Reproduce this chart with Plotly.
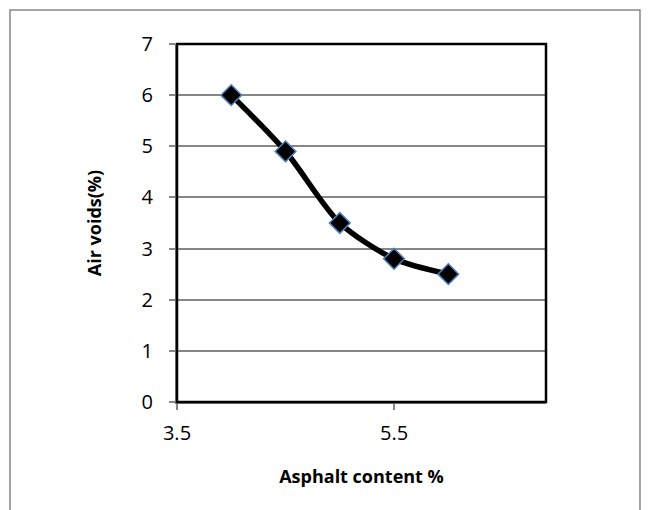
import plotly.graph_objects as go

asphalt_content = [4.0, 4.5, 5.0, 5.5, 6.0]
air_voids = [6.0, 4.9, 3.5, 2.8, 2.5]
x_ticks = [3.5, 5.5]
y_ticks = [0, 1, 2, 3, 4, 5, 6, 7]

fig = go.Figure()
fig.add_trace(go.Scatter(
    x=asphalt_content, y=air_voids, mode='lines+markers',
    line=dict(color='black', width=5.5, shape='spline', smoothing=0.8),
    marker=dict(symbol='diamond', size=16, color='black',
                line=dict(color='#4f81bd', width=1.5)),
    showlegend=False))

tick_font = dict(family='Open Sans, Liberation Sans, sans-serif', size=20, color='black')
title_font = dict(family='Open Sans, Liberation Sans, sans-serif', size=18, color='black')

fig.update_xaxes(range=[3.5, 6.9], tickvals=x_ticks, ticktext=['3.5', '5.5'],
                 showgrid=False, zeroline=False, showline=True, linecolor='#868686', linewidth=2,
                 ticks='outside', ticklen=6, tickcolor='#868686', tickwidth=2,
                 tickfont=tick_font, ticklabelstandoff=6,
                 title=dict(text='<b>Asphalt content %</b>', font=title_font, standoff=25))
fig.update_yaxes(range=[0, 7], tickvals=y_ticks,
                 showgrid=True, gridcolor='#868686', gridwidth=1.5, zeroline=False,
                 showline=True, linecolor='#868686', linewidth=2,
                 ticks='outside', ticklen=6, tickcolor='#868686', tickwidth=2,
                 tickfont=tick_font, ticklabelstandoff=12,
                 title=dict(text='<b>Air voids(%)</b>', font=title_font, standoff=35))

# plot area frame and outer chart border
fig.add_shape(type='rect', xref='paper', yref='paper', x0=0, y0=0, x1=1, y1=1,
              line=dict(color='black', width=2.5), layer='above')
fig.add_shape(type='rect', xref='paper', yref='paper', x0=-0.4526, y0=-0.33, x1=1.2547, y1=1.095,
              line=dict(color='#868686', width=1.5))

fig.update_layout(width=649, height=510, margin=dict(l=177, r=103, t=44, b=108),
                  plot_bgcolor='white', paper_bgcolor='white')

fig.write_html("out.html", config={'displayModeBar': False},
               post_script="document.body.style.margin='0px';")
